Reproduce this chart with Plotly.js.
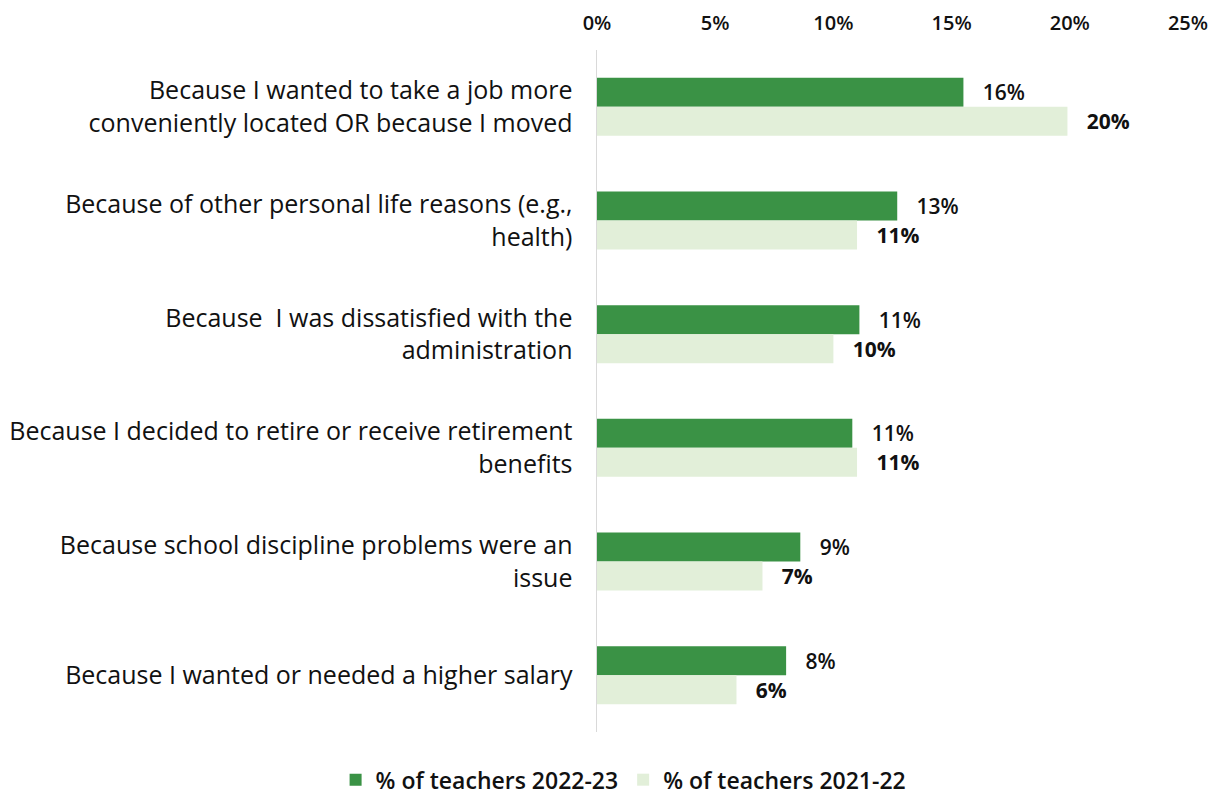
<!DOCTYPE html>
<html>
<head>
<meta charset="utf-8">
<script src="https://cdn.plot.ly/plotly-3.0.1.min.js"></script>
<style>html,body{margin:0;padding:0;background:#fff;}#chart{width:1215px;height:795px;}</style>
</head>
<body>
<div id="chart"></div>
<script>
const categories = [
  "Because I wanted to take a job more<br>conveniently located OR because I moved",
  "Because of other personal life reasons (e.g.,<br>health)",
  "Because  I was dissatisfied with the<br>administration",
  "Because I decided to retire or receive retirement<br>benefits",
  "Because school discipline problems were an<br>issue",
  "Because I wanted or needed a higher salary"
];
const values2223 = [15.5, 12.7, 11.1, 10.8, 8.6, 8.0];
const values2122 = [19.9, 11.0, 10.0, 11.0, 7.0, 5.9];
const seriesNames = ["% of teachers 2022-23", "% of teachers 2021-22"];
const tickValues = [0, 5, 10, 15, 20, 25];

const FONT = "'Open Sans', sans-serif";
const PAD = "\u00a0\u00a0\u00a0";

const traces = [
  {
    type: "bar", orientation: "h", name: seriesNames[0],
    y: categories, x: values2223,
    marker: {color: "#3a9245"},
    text: values2223.map(v => PAD + Math.round(v) + "%"),
    textposition: "outside",
    textfont: {family: FONT, size: 21, color: "#111", weight: 600},
    cliponaxis: false,
    hoverinfo: "skip"
  },
  {
    type: "bar", orientation: "h", name: seriesNames[1],
    y: categories, x: values2122,
    marker: {color: "#e2efd9"},
    text: values2122.map(v => PAD + Math.round(v) + "%"),
    textposition: "outside",
    textfont: {family: FONT, size: 21, color: "#111", weight: 700},
    cliponaxis: false,
    hoverinfo: "skip"
  }
];

const layout = {
  width: 1215, height: 795,
  margin: {l: 597, r: 27, t: 50, b: 63, autoexpand: false},
  paper_bgcolor: "#fff", plot_bgcolor: "#fff",
  barmode: "group",
  bargap: 0.49, bargroupgap: 0,
  font: {family: FONT, color: "#111"},
  xaxis: {
    side: "top", range: [0, 25], tickvals: tickValues, ticktext: tickValues.map(v => v + "%"),
    showgrid: false, zeroline: false, showline: false, ticks: "",
    tickfont: {family: FONT, size: 20, color: "#111", weight: 600},
    ticklabelstandoff: 15, fixedrange: true, automargin: false
  },
  yaxis: {
    autorange: "reversed", showline: true, linecolor: "#d9d9d9", linewidth: 1.5,
    showgrid: false, zeroline: false, ticks: "",
    tickfont: {family: FONT, size: 25, color: "#111"},
    ticklabelstandoff: 18, fixedrange: true, automargin: false
  },
  showlegend: true,
  legend: {
    orientation: "h", x: 0.045, xanchor: "center",
    y: -0.07, yanchor: "middle",
    font: {family: FONT, size: 23, color: "#111", weight: 600},
    itemwidth: 30, tracegroupgap: 0
  }
};

Plotly.newPlot("chart", traces, layout, {displayModeBar: false, staticPlot: true});
</script>
</body>
</html>
